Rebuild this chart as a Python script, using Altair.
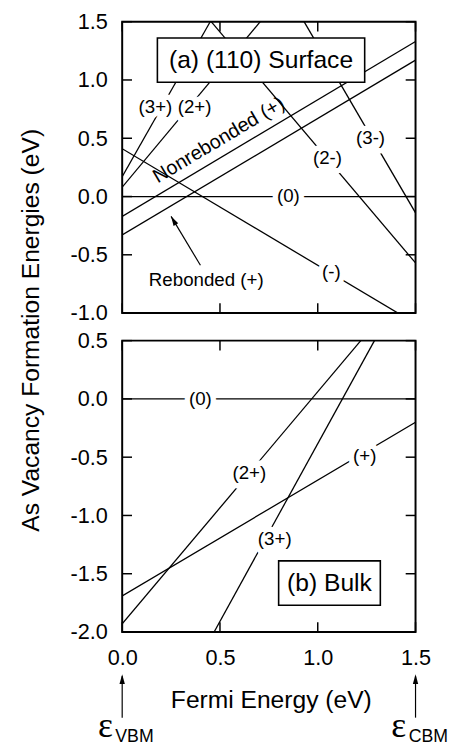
import altair as alt
import pandas as pd

# ---------------- data ----------------
x_ticks = [0.0, 0.5, 1.0, 1.5]
top_y_ticks = [-1.0, -0.5, 0.0, 0.5, 1.0, 1.5]
bot_y_ticks = [-2.0, -1.5, -1.0, -0.5, 0.0, 0.5]

# (a) (110) surface: line segments (end points)
surf_name = ["(0)", "(-)", "Nonrebonded (+)", "Rebonded (+)", "(3+)", "(2+)", "(2-)", "(3-)"]
surf_x0 = [0.0, 0.0, 0.0, 0.0, 0.0, 0.0, 0.455, 0.93]
surf_y0 = [0.0, 0.41, -0.17, -0.33, 0.17, 0.08, 1.5, 1.5]
surf_x1 = [1.5, 1.41, 1.5, 1.5, 0.45, 0.706, 1.5, 1.5]
surf_y1 = [0.0, -1.0, 1.33, 1.17, 1.5, 1.5, -0.57, -0.14]

surf_lab_text = ["(3+)", "(2+)", "(0)", "(2-)", "(3-)", "(-)", "Rebonded (+)"]
surf_lab_x = [0.17, 0.37, 0.85, 1.05, 1.27, 1.07, 0.43]
surf_lab_y = [0.77, 0.77, 0.0, 0.33, 0.50, -0.65, -0.72]

nonreb_text = ["Nonrebonded (+)"]
nonreb_x = [0.51]
nonreb_y = [0.44]

reb_arrow_x0 = [0.40]
reb_arrow_y0 = [-0.59]
reb_arrow_x1 = [0.25]
reb_arrow_y1 = [-0.17]

surf_box_text = ["(a) (110) Surface"]
surf_box_x = [0.18]
surf_box_x2 = [1.24]
surf_box_y = [1.36]
surf_box_y2 = [0.98]

# (b) bulk
bulk_name = ["(0)", "(+)", "(2+)", "(3+)"]
bulk_x0 = [0.0, 0.0, 0.0, 0.47]
bulk_y0 = [0.0, -1.69, -1.93, -2.0]
bulk_x1 = [1.5, 1.5, 1.22, 1.29]
bulk_y1 = [0.0, -0.20, 0.5, 0.5]

bulk_lab_text = ["(0)", "(+)", "(2+)", "(3+)"]
bulk_lab_x = [0.40, 1.24, 0.65, 0.78]
bulk_lab_y = [0.0, -0.49, -0.64, -1.20]

bulk_box_text = ["(b) Bulk"]
bulk_box_x = [0.80]
bulk_box_x2 = [1.32]
bulk_box_y = [-1.39]
bulk_box_y2 = [-1.77]

edge_x = [0.0, 1.5]
edge_sub = ["VBM", "CBM"]

# ---------------- styling ----------------
W, H = 298, 296
FONT = "Liberation Sans"
LW = 1.3
TICK = 10
ARROW = "M0,0L-0.28,1L0.28,1Z"

xs = alt.Scale(domain=[0, 1.5], nice=False, zero=False)
ys_top = alt.Scale(domain=[-1.0, 1.5], nice=False, zero=False)
ys_bot = alt.Scale(domain=[-2.0, 0.5], nice=False, zero=False)

label_expr = "datum.value < 0 ? '-' + format(-datum.value, '.1f') : format(datum.value, '.1f')"

common = dict(ticks=False, tickSize=0, domain=False, grid=False, labelFlush=False,
              labelOverlap=False, labelFontSize=22)
ax_top_y = alt.Axis(values=top_y_ticks, labelExpr=label_expr, labelPadding=15,
                    title="As Vacancy Formation Energies (eV)", titleFontSize=25,
                    titleFontWeight="normal", titleAngle=270, titleX=-85,
                    titleY=313, titleAlign="center", titleBaseline="alphabetic", **common)
ax_top_x = alt.Axis(values=x_ticks, labels=False, title=None, **common)
ax_bot_x = alt.Axis(values=x_ticks, labelExpr=label_expr, labelPadding=16,
                    title="Fermi Energy (eV)", titleFontSize=25, titleFontWeight="normal",
                    titleX=151, titleY=77, titleAlign="center", titleBaseline="alphabetic",
                    **common)
ax_bot_y = alt.Axis(values=bot_y_ticks, labelExpr=label_expr, labelPadding=15, title=None,
                    **common)


def ticks(ys, yvals, axx, axy):
    lt = pd.DataFrame({"v": yvals})
    xt = pd.DataFrame({"v": x_ticks})
    left = alt.Chart(lt).mark_rule(strokeWidth=1.5, color="black").encode(
        y=alt.Y("v:Q", scale=ys, axis=axy), x=alt.value(0), x2=alt.value(TICK))
    right = alt.Chart(lt).mark_rule(strokeWidth=1.5, color="black").encode(
        y=alt.Y("v:Q", scale=ys, axis=axy), x=alt.value(W - TICK), x2=alt.value(W))
    top = alt.Chart(xt).mark_rule(strokeWidth=1.5, color="black").encode(
        x=alt.X("v:Q", scale=xs, axis=axx), y=alt.value(0), y2=alt.value(TICK))
    bot = alt.Chart(xt).mark_rule(strokeWidth=1.5, color="black").encode(
        x=alt.X("v:Q", scale=xs, axis=axx), y=alt.value(H - TICK), y2=alt.value(H))
    return [left, right, top, bot]


def labels(df, ys, axx, axy, size=19):
    halo = alt.Chart(df).mark_text(font=FONT, fontSize=size, color="white", stroke="white",
                                   strokeWidth=11, strokeJoin="round", align="center",
                                   baseline="middle").encode(
        x=alt.X("x:Q", scale=xs, axis=axx), y=alt.Y("y:Q", scale=ys, axis=axy), text="t:N")
    txt = alt.Chart(df).mark_text(font=FONT, fontSize=size, color="black",
                                  align="center", baseline="middle").encode(
        x=alt.X("x:Q", scale=xs, axis=axx), y=alt.Y("y:Q", scale=ys, axis=axy), text="t:N")
    return [halo, txt]


def box(text, x, x2, y, y2, ys, axx, axy):
    df = pd.DataFrame({"t": text, "x": x, "x2": x2, "y": y, "y2": y2})
    df["xm"] = (df["x"] + df["x2"]) / 2
    df["ym"] = (df["y"] + df["y2"]) / 2
    r = alt.Chart(df).mark_rect(fill="white", stroke="black", strokeWidth=1.6).encode(
        x=alt.X("x:Q", scale=xs, axis=axx), x2="x2:Q",
        y=alt.Y("y:Q", scale=ys, axis=axy), y2="y2:Q")
    t = alt.Chart(df).mark_text(font=FONT, fontSize=25, color="black",
                                align="center", baseline="middle").encode(
        x=alt.X("xm:Q", scale=xs, axis=axx), y=alt.Y("ym:Q", scale=ys, axis=axy), text="t:N")
    return [r, t]


# ---------------- top panel ----------------
surf_df = pd.DataFrame({"name": surf_name, "x0": surf_x0, "y0": surf_y0,
                        "x1": surf_x1, "y1": surf_y1})
top_lines = alt.Chart(surf_df).mark_rule(strokeWidth=LW, color="black", clip=True).encode(
    x=alt.X("x0:Q", scale=xs, axis=ax_top_x),
    y=alt.Y("y0:Q", scale=ys_top, axis=ax_top_y),
    x2="x1:Q", y2="y1:Q")

surf_lab_df = pd.DataFrame({"t": surf_lab_text, "x": surf_lab_x, "y": surf_lab_y})
nonreb_df = pd.DataFrame({"t": nonreb_text, "x": nonreb_x, "y": nonreb_y})
nonreb = alt.Chart(nonreb_df).mark_text(font=FONT, fontSize=20, color="black", align="center",
                                        baseline="alphabetic", angle=329.2).encode(
    x=alt.X("x:Q", scale=xs, axis=ax_top_x), y=alt.Y("y:Q", scale=ys_top, axis=ax_top_y),
    text="t:N")

arrow_df = pd.DataFrame({"x0": reb_arrow_x0, "y0": reb_arrow_y0,
                         "x1": reb_arrow_x1, "y1": reb_arrow_y1})
reb_arrow = alt.Chart(arrow_df).mark_rule(strokeWidth=1.2, color="black").encode(
    x=alt.X("x0:Q", scale=xs, axis=ax_top_x), y=alt.Y("y0:Q", scale=ys_top, axis=ax_top_y),
    x2="x1:Q", y2="y1:Q")
reb_head = alt.Chart(arrow_df).mark_point(shape=ARROW, filled=True, color="black", opacity=1,
                                          size=380, angle=330).encode(
    x=alt.X("x1:Q", scale=xs, axis=ax_top_x), y=alt.Y("y1:Q", scale=ys_top, axis=ax_top_y))

top = alt.layer(
    top_lines, *labels(surf_lab_df, ys_top, ax_top_x, ax_top_y), nonreb, reb_arrow, reb_head,
    *box(surf_box_text, surf_box_x, surf_box_x2, surf_box_y, surf_box_y2, ys_top,
         ax_top_x, ax_top_y),
    *ticks(ys_top, top_y_ticks, ax_top_x, ax_top_y)
).properties(width=W, height=H)

# ---------------- bottom panel ----------------
bulk_df = pd.DataFrame({"name": bulk_name, "x0": bulk_x0, "y0": bulk_y0,
                        "x1": bulk_x1, "y1": bulk_y1})
bot_lines = alt.Chart(bulk_df).mark_rule(strokeWidth=LW, color="black", clip=True).encode(
    x=alt.X("x0:Q", scale=xs, axis=ax_bot_x),
    y=alt.Y("y0:Q", scale=ys_bot, axis=ax_bot_y),
    x2="x1:Q", y2="y1:Q")

bulk_lab_df = pd.DataFrame({"t": bulk_lab_text, "x": bulk_lab_x, "y": bulk_lab_y})

edge_df = pd.DataFrame({"x": edge_x, "sub": edge_sub})
edge_arrow = alt.Chart(edge_df).mark_rule(strokeWidth=1.2, color="black").encode(
    x=alt.X("x:Q", scale=xs, axis=ax_bot_x), y=alt.value(341), y2=alt.value(383))
edge_head = alt.Chart(edge_df).mark_point(shape=ARROW, filled=True, color="black", opacity=1,
                                          size=380).encode(
    x=alt.X("x:Q", scale=xs, axis=ax_bot_x), y=alt.value(339))
edge_eps = alt.Chart(edge_df).mark_text(text="ε", font="Liberation Serif", fontSize=36,
                                        color="black", align="center", baseline="alphabetic",
                                        dx=-17).encode(
    x=alt.X("x:Q", scale=xs, axis=ax_bot_x), y=alt.value(403))
edge_sub_t = alt.Chart(edge_df).mark_text(font=FONT, fontSize=18, color="black", align="left",
                                          baseline="alphabetic", dx=-7).encode(
    x=alt.X("x:Q", scale=xs, axis=ax_bot_x), y=alt.value(408), text="sub:N")

bottom = alt.layer(
    bot_lines, *labels(bulk_lab_df, ys_bot, ax_bot_x, ax_bot_y),
    *box(bulk_box_text, bulk_box_x, bulk_box_x2, bulk_box_y, bulk_box_y2, ys_bot,
         ax_bot_x, ax_bot_y),
    *ticks(ys_bot, bot_y_ticks, ax_bot_x, ax_bot_y),
    edge_arrow, edge_head, edge_eps, edge_sub_t
).properties(width=W, height=H)

chart = alt.vconcat(top, bottom, spacing=28, bounds="flush").properties(
    padding={"left": 10, "top": -4, "right": 0, "bottom": 0}
).configure_view(stroke="black", strokeWidth=2).configure_axis(
    labelFont=FONT, titleFont=FONT, labelColor="black", titleColor="black"
).configure_text(font=FONT)

chart.save("out.html", embed_options={"renderer": "svg", "actions": False})
